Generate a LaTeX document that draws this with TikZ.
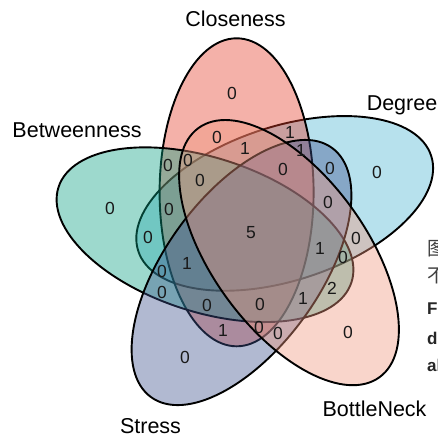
\documentclass[tikz,border=0pt]{standalone}
\usepackage{fontspec}
\setmainfont{Liberation Sans}
\newfontfamily\cjkfont{Noto Sans CJK SC}
\definecolor{cDeg}{RGB}{75,182,210}
\definecolor{cClo}{RGB}{228,62,42}
\definecolor{cBet}{RGB}{10,160,130}
\definecolor{cStr}{RGB}{62,82,142}
\definecolor{cBot}{RGB}{240,150,125}
\tikzset{
  vennset/.style={draw=black, line width=1.9pt, fill opacity=0.4},
  num/.style={font=\fontsize{17.5}{17.5}\selectfont, inner sep=0pt, text=black!90},
  setlab/.style={font=\fontsize{21.5}{21.5}\selectfont, inner sep=0pt, anchor=base},
  capcjk/.style={font=\cjkfont\fontsize{19}{19}\selectfont, inner sep=0pt, anchor=west, text=black!75},
  caplat/.style={font=\bfseries\fontsize{17}{17}\selectfont, inner sep=0pt, anchor=base west, text=black!85}
}
\begin{document}
\begin{tikzpicture}[x=1pt,y=-1pt]
\useasboundingbox (0,0) rectangle (438,437);
\fill[white] (0,0) rectangle (438,437);
% ellipses (drawing order matters for the tinted outlines)
\path[vennset, fill=cDeg, rotate around={18:(284.7,203.4)}] (284.7,203.4) ellipse [x radius=154pt, y radius=77pt];
\path[vennset, fill=cClo, rotate around={90:(236.6,192.3)}] (236.6,192.3) ellipse [x radius=154pt, y radius=77pt];
\path[vennset, fill=cBet, rotate around={162:(205,234.7)}] (205,234.7) ellipse [x radius=154pt, y radius=77pt];
\path[vennset, fill=cStr, rotate around={54:(241.5,272.5)}] (241.5,272.5) ellipse [x radius=154pt, y radius=77pt];
\path[vennset, fill=cBot, rotate around={-54:(289,252.6)}] (289,252.6) ellipse [x radius=154pt, y radius=77pt];
% set labels
\node[setlab] (lclo) at (235.5,26) {Closeness};
\node[setlab] (ldeg) at (402,110) {Degree};
\node[setlab] (lbet) at (77,137) {Betweenness};
\node[setlab] (lstr) at (150.5,433) {Stress};
\node[setlab] (lbot) at (374.5,416) {BottleNeck};
% region counts
\node[num] (n1) at (232,93) {0};
\node[num] (n2) at (377,172) {0};
\node[num] (n3) at (110,208) {0};
\node[num] (n4) at (185,357) {0};
\node[num] (n5) at (348,332) {0};
\node[num] (n6) at (251,233) {5};
\node[num] (n7) at (217,137) {0};
\node[num] (n8) at (290,132) {1};
\node[num] (n9) at (245,148) {1};
\node[num] (n10) at (301,150) {1};
\node[num] (n11) at (168,165) {0};
\node[num] (n12) at (188,160) {0};
\node[num] (n13) at (200,180) {0};
\node[num] (n14) at (283,169) {0};
\node[num] (n15) at (330,168) {0};
\node[num] (n16) at (169,209) {0};
\node[num] (n17) at (328,202) {0};
\node[num] (n18) at (148,237) {0};
\node[num] (n19) at (356,238) {0};
\node[num] (n20) at (320,248) {1};
\node[num] (n21) at (343,257) {0};
\node[num] (n22) at (187,263) {1};
\node[num] (n23) at (162,271) {0};
\node[num] (n24) at (162,292) {0};
\node[num] (n25) at (332,288) {2};
\node[num] (n26) at (303,298) {1};
\node[num] (n27) at (207,305) {0};
\node[num] (n28) at (260,304) {0};
\node[num] (n29) at (223,330) {1};
\node[num] (n30) at (259,327) {0};
\node[num] (n31) at (278,333) {0};
% clipped caption text at right edge
\node[capcjk] (c1) at (427,249) {图};
\node[capcjk] (c2) at (427,276) {不};
\node[caplat] (c3) at (427,314.5) {Fi};
\node[caplat] (c4) at (427,344) {d};
\node[caplat] (c5) at (427,371) {al};
\end{tikzpicture}
\end{document}
